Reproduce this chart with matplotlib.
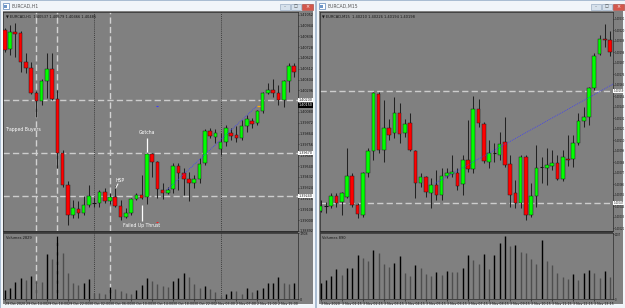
import numpy as np
import matplotlib
matplotlib.use("Agg")
import matplotlib.pyplot as plt
from matplotlib.patches import Rectangle
from matplotlib.ticker import MultipleLocator, FuncFormatter

# ---------------- data ----------------
# EURCAD H1 (left window), prices in pips above 1.3900
h1_open = [190, 171, 188, 187.5, 158, 152, 127.5, 119, 139, 151, 121, 67, 35, 5, 11, 7.5, 15, 17, 17, 28,
           19, 23, 14, 3.5, 7, 21, 25.5, 23, 66, 58, 30.5, 27, 31, 54, 47, 41, 37, 41, 57, 89,
           83.5, 71, 78, 87, 85, 82, 94, 99, 97, 109, 127.5, 130.5, 127, 120.5, 139, 154]
h1_high = [192, 195, 197, 189, 167, 158, 129, 141, 167, 167, 130, 70, 39, 20, 19, 24, 35, 23, 30, 32,
           27, 34, 20, 12, 22.5, 27.5, 45, 67, 67, 59, 37, 33, 57, 57, 52, 48, 45, 62, 91, 92,
           91, 87, 95, 92, 94, 100, 105, 102, 110, 128, 137, 141, 135, 140, 157, 157.5]
h1_low = [168, 165, 163, 148, 147, 126.5, 103, 115, 122, 120, 52, 33, -5, 2, 2, 5, 13, 13, 13, 17,
          16, 13, 0, 2, 5, 20, 21, 16, 43, 22, 21, 26, 27, 30, 25, 19, 32, 37, 55, 82,
          77, 65, 74, 80, 78, 80, 88, 92, 95, 107, 126, 123, 115, 113, 128, 143]
h1_close = [170, 188, 186.5, 158.5, 152, 127.5, 119, 139, 151, 121, 67, 35, 5, 12, 7.5, 15, 24, 17, 28, 19,
            23, 14, 3.5, 7.5, 21, 25.5, 22.5, 66.5, 58.5, 31, 27, 30.5, 54, 47, 41, 37, 41.5, 56.5, 89, 84,
            87, 78, 92, 84, 82, 94, 101, 96, 109, 127.5, 130, 127.5, 120.5, 139, 154, 148.5]
h1_vol = [242, 285, 440, 544, 500, 604, 483, 449, 1165, 1036, 1640, 1208, 673, 414, 371, 414, 526, 173, 173, 138,
          328, 268, 224, 173, 138, 242, 371, 544, 475, 397, 345, 328, 475, 561, 690, 570, 397, 302, 345, 268,
          181, 86, 138, 224, 224, 138, 302, 198, 242, 302, 414, 432, 570, 414, 397, 414]
h1_levels = [120, 67, 24]
h1_light_vlines = [6, 10, 20]
h1_dark_vlines = [17, 41]
h1_times = ["29 Oct 2020", "29 Oct 14:00", "29 Oct 18:00", "29 Oct 22:00", "30 Oct 02:00", "30 Oct 06:00",
            "30 Oct 10:00", "30 Oct 14:00", "30 Oct 18:00", "30 Oct 22:00", "2 Nov 03:00", "2 Nov 07:00",
            "2 Nov 11:00", "2 Nov 15:00"]

# EURCAD M15 (right window), prices in points above 1.40000
m15_open = [39.5, 44, 44, 54, 48, 53.5, 74, 45, 35, 77.3, 99.3, 156, 100, 121.7, 117.3, 137.3, 117.3, 127.3, 99.3, 67.3,
            72.7, 57.3, 65, 55, 74.3, 75.7, 77, 66, 90, 80.7, 140.7, 125.7, 88.3, 96.7, 95, 108.3, 86, 56.7, 46.7, 92.7,
            35, 54, 82.7, 81.7, 84, 86.7, 70.7, 91.3, 90.7, 106.7, 129, 132.7, 161.7, 195.7, 211, 210]
m15_high = [50, 48.3, 56.7, 57, 58.3, 101.7, 77, 47, 78.3, 102, 158, 158, 150, 131, 153.3, 147, 130.7, 137.3, 100, 77,
            74, 71.7, 80, 82, 82, 95, 82, 95, 130, 154, 150.7, 128.3, 110, 106.7, 118.3, 133.3, 95, 70, 95, 95,
            67, 105, 93.3, 101.7, 100, 95, 100, 115, 115, 137, 143.3, 163.3, 197, 215, 226, 219]
m15_low = [38, 36.7, 41.7, 43.3, 35, 51.7, 43, 32, 33.3, 73.3, 90, 97, 88.3, 110, 111.7, 107.3, 113.3, 99, 51.7, 63.3,
           53.3, 41.7, 50, 50, 72, 73.3, 60, 55, 78.3, 77.3, 123.3, 86.7, 81.7, 88.3, 90, 83.3, 43.3, 41.7, 41.7, 30,
           33.3, 43.3, 66.7, 65, 80, 70, 69, 84, 83.3, 105, 123.3, 125, 160, 195, 203.3, 194]
m15_close = [44, 44, 54, 47, 57, 74, 45, 36, 77.3, 99.3, 156.7, 100, 121.7, 115, 137.3, 116, 125.7, 100, 67.3, 72.7,
             58.3, 65, 55, 74.3, 77.3, 78.3, 64.5, 90, 80.7, 140.7, 126.7, 89, 97.3, 96.7, 106, 85, 55, 46.7, 92.7, 35,
             54, 81.7, 82.7, 84.7, 86.7, 70.7, 93.3, 90, 106.7, 129, 132.7, 161.7, 194, 210.7, 210, 197.7]
m15_vol = [504, 607, 710, 947, 741, 967, 978, 1358, 1286, 1173, 1513, 1430, 1091, 998, 1122, 1327, 813, 710, 1050, 978,
           772, 710, 844, 741, 864, 844, 844, 978, 1358, 1204, 1101, 1410, 947, 1358, 1739, 1955, 1636, 1688, 1461, 1430,
           1235, 1080, 1821, 1183, 1050, 813, 689, 638, 792, 607, 813, 895, 813, 658, 864, 689]
m15_levels = [159, 47]
m15_times = ["3 Nov 2020", "3 Nov 01:15", "3 Nov 02:15", "3 Nov 03:15", "3 Nov 04:15", "3 Nov 05:15",
             "3 Nov 06:15", "3 Nov 07:15", "3 Nov 08:15", "3 Nov 09:15", "3 Nov 10:15", "3 Nov 11:15",
             "3 Nov 12:15", "3 Nov 13:15"]

# ---------------- figure ----------------
W, H = 625, 308
fig = plt.figure(figsize=(W / 100, H / 100), dpi=100)
fig.patch.set_facecolor("#dfe7f1")

GRAY = "#808080"
INK = "#151515"
WICK = "#222222"


def px_axes(x0, y0, x1, y1, z=1):
    return fig.add_axes([x0 / W, 1 - y1 / H, (x1 - x0) / W, (y1 - y0) / H], zorder=z)


bg = px_axes(0, 0, W, H, z=0)
bg.set_xlim(0, W)
bg.set_ylim(H, 0)
bg.axis("off")


def rect(x0, y0, x1, y1, fc, ec="none", lw=0.0):
    bg.add_patch(Rectangle((x0, y0), x1 - x0, y1 - y0, facecolor=fc, edgecolor=ec, lw=lw))


# window chrome
for wx0, wx1, title, bx in [(0, 315, "EURCAD,H1", 279.5), (316, 625, "EURCAD,M15", 590.5)]:
    rect(wx0 + 0.4, 0.4, wx1 - 0.4, 307.6, "#f1f5f9", ec="#9fb4cc", lw=0.6)
    rect(wx0 + 3, 11, wx1 - 2.5, 304, GRAY)
    rect(wx0 + 2.5, 3, wx0 + 8.5, 9, "#ffffff", ec="#5b84b8", lw=0.5)
    rect(wx0 + 4, 5, wx0 + 7, 7.5, "#6f97c8")
    bg.text(wx0 + 11, 6.2, title, fontsize=3.3, color="#555555", va="center")
    rect(bx, 3.5, bx + 10.5, 9.5, "#d6e1ec", ec="#8a9fb8", lw=0.4)
    rect(bx + 11.3, 3.5, bx + 21.8, 9.5, "#d6e1ec", ec="#8a9fb8", lw=0.4)
    rect(bx + 22.6, 3.5, bx + 33, 9.5, "#d4574b", ec="#9b3a32", lw=0.4)
    bg.text(bx + 5.2, 6.5, "–", fontsize=3, color="#444444", ha="center", va="center")
    bg.text(bx + 16.5, 6.5, "□", fontsize=3, color="#444444", ha="center", va="center")
    bg.text(bx + 27.8, 6.5, "×", fontsize=3.5, color="white", ha="center", va="center")

# panel separators
rect(3.3, 230.6, 297.7, 233.2, "#3b3b3b")
rect(320, 230.6, 612.7, 233.2, "#3b3b3b")


def style(ax, fs):
    ax.set_facecolor(GRAY)
    for s in ax.spines.values():
        s.set_color("#2a2a2a")
        s.set_linewidth(0.5)
    ax.yaxis.tick_right()
    ax.tick_params(axis="y", length=1.0, width=0.4, pad=0.6, labelsize=fs, colors=INK)


def candles(ax, o, h, l, c, w=0.68):
    for i in range(len(o)):
        ax.vlines(i, l[i], h[i], color=WICK, lw=0.75, zorder=3)
        if c[i] == o[i]:
            ax.hlines(o[i], i - w / 2, i + w / 2, color="#111111", lw=0.8, zorder=4)
            continue
        col = "#00ff00" if c[i] > o[i] else "#ff0000"
        ax.add_patch(Rectangle((i - w / 2, min(o[i], c[i])), w, abs(c[i] - o[i]),
                               facecolor=col, edgecolor="#1e1e1e", lw=0.35, zorder=4))


def volumes(ax, vol):
    cols = ["#000000" if i == 0 or vol[i] > vol[i - 1] else "#4e4e4e" for i in range(len(vol))]
    ax.vlines(range(len(vol)), 0, vol, colors=cols, lw=1.0)


def level_box(ax, v, text, fs, dark=False):
    ax.text(1.003, v, text, transform=ax.get_yaxis_transform(), clip_on=False, fontsize=fs,
            va="center", ha="left", color="white" if dark else INK, zorder=6,
            bbox=dict(boxstyle="square,pad=0.08", fc="#000000" if dark else "#ffffff", ec="none"))


def time_axis(axv, labels):
    axv.set_xticks(range(0, 4 * len(labels), 4))
    axv.set_xticklabels(labels)
    axv.tick_params(axis="x", length=1.2, width=0.4, pad=0.6, labelsize=2.3, colors=INK)
    for lab in axv.get_xticklabels():
        lab.set_ha("left")


# ---------- left: H1 ----------
FS1 = 2.4
h1_fmt = FuncFormatter(lambda v, p: f"{1.3900 + v / 1e4:.5f}")
ax1 = px_axes(3.3, 12, 297.7, 231)
style(ax1, FS1)
ax1.set_xlim(-0.27, 55.65)
ax1.set_ylim(-11, 208)
ax1.set_xticks([])
ax1.yaxis.set_major_locator(MultipleLocator(10.8))
ax1.yaxis.set_major_formatter(h1_fmt)

av1 = px_axes(3.3, 233.2, 297.7, 299.3)
style(av1, FS1)
av1.set_xlim(-0.27, 55.65)
av1.set_ylim(0, 1715)
av1.set_yticks([0, 1708])
av1.set_yticklabels(["0", "1708"])
time_axis(av1, h1_times)

for lv in h1_levels:
    ax1.axhline(lv, color="#cdcdcd", lw=1.0, dashes=(4.5, 2.3), zorder=2)
    level_box(ax1, lv, h1_fmt(lv, None), FS1)
level_box(ax1, 114.6, h1_fmt(115, None), FS1, dark=True)
for a in (ax1, av1):
    for xv in h1_light_vlines:
        a.axvline(xv, color="#d2d2d2", lw=1.0, dashes=(4.5, 2.3), zorder=2)
    for xv in h1_dark_vlines:
        a.axvline(xv, color="#2b2b2b", lw=0.6, dashes=(1, 1.3), zorder=2)

candles(ax1, h1_open, h1_high, h1_low, h1_close)
volumes(av1, h1_vol)

ax1.plot([30.8, 47.9], [30, 114], color="#3a3aff", lw=0.6, ls=(0, (1, 1.3)), zorder=5)
ax1.hlines(114, 28.7, 29.2, color="#3a3aff", lw=0.8, zorder=5)
ax1.hlines(114, 48.0, 48.5, color="#ffb000", lw=0.9, zorder=5)
ax1.hlines(-2, 28.7, 29.2, color="#ff2020", lw=0.8, zorder=5)

ax1.text(0.1, 91, "Trapped Buyers", color="white", fontsize=3.3, va="center", zorder=6)
ax1.text(27.05, 87.5, "Gotcha", color="white", fontsize=3.3, ha="center", va="center", zorder=6)
ax1.vlines(27.05, 68, 82, color="white", lw=0.9, zorder=6)
ax1.text(21.1, 40, "HSP", color="white", fontsize=3.3, va="center", zorder=6)
ax1.plot([21.1, 21.5], [32, 36], color="white", lw=0.7, zorder=6)
ax1.text(26.0, -5, "Failed Up Thrust", color="white", fontsize=3.3, ha="center", va="center", zorder=6)
ax1.vlines(26.0, -1, 15, color="white", lw=0.9, zorder=6)

ax1.text(0.008, 0.988, "▼ EURCAD,H1  1.40537 1.40579 1.40466 1.40485", transform=ax1.transAxes,
         fontsize=2.6, color=INK, va="top", zorder=6)
av1.text(0.008, 0.965, "Volumes 2829", transform=av1.transAxes, fontsize=2.6, color=INK, va="top")

# ---------- right: M15 ----------
FS2 = 1.85  # the right price scale is squeezed against the screen edge
m15_fmt = FuncFormatter(lambda v, p: f"{1.40000 + v / 1e5:.5f}")
ax2 = px_axes(320, 12, 612.7, 231)
style(ax2, FS2)
ax2.set_xlim(-0.13, 55.5)
ax2.set_ylim(19, 238)
ax2.set_xticks([])
ax2.yaxis.set_major_locator(MultipleLocator(11))
ax2.yaxis.set_major_formatter(m15_fmt)

av2 = px_axes(320, 233.2, 612.7, 299.3)
style(av2, FS2)
av2.set_xlim(-0.13, 55.5)
av2.set_ylim(0, 2038)
av2.set_yticks([0, 2007])
av2.set_yticklabels(["0", "2007"])
time_axis(av2, m15_times)

for lv in m15_levels:
    ax2.axhline(lv, color="#cdcdcd", lw=1.0, dashes=(4.5, 2.3), zorder=2)
    level_box(ax2, lv, m15_fmt(lv, None), FS2)

candles(ax2, m15_open, m15_high, m15_low, m15_close)
volumes(av2, m15_vol)
ax2.plot([21.7, 55.6], [66.7, 166], color="#3a3aff", lw=0.6, ls=(0, (1, 1.3)), zorder=5)

ax2.text(0.008, 0.988, "▼ EURCAD,M15  1.40210 1.40226 1.40194 1.40198", transform=ax2.transAxes,
         fontsize=2.6, color=INK, va="top", zorder=6)
av2.text(0.008, 0.965, "Volumes 890", transform=av2.transAxes, fontsize=2.6, color=INK, va="top")

fig.savefig("out.png", dpi=100, facecolor=fig.get_facecolor())
